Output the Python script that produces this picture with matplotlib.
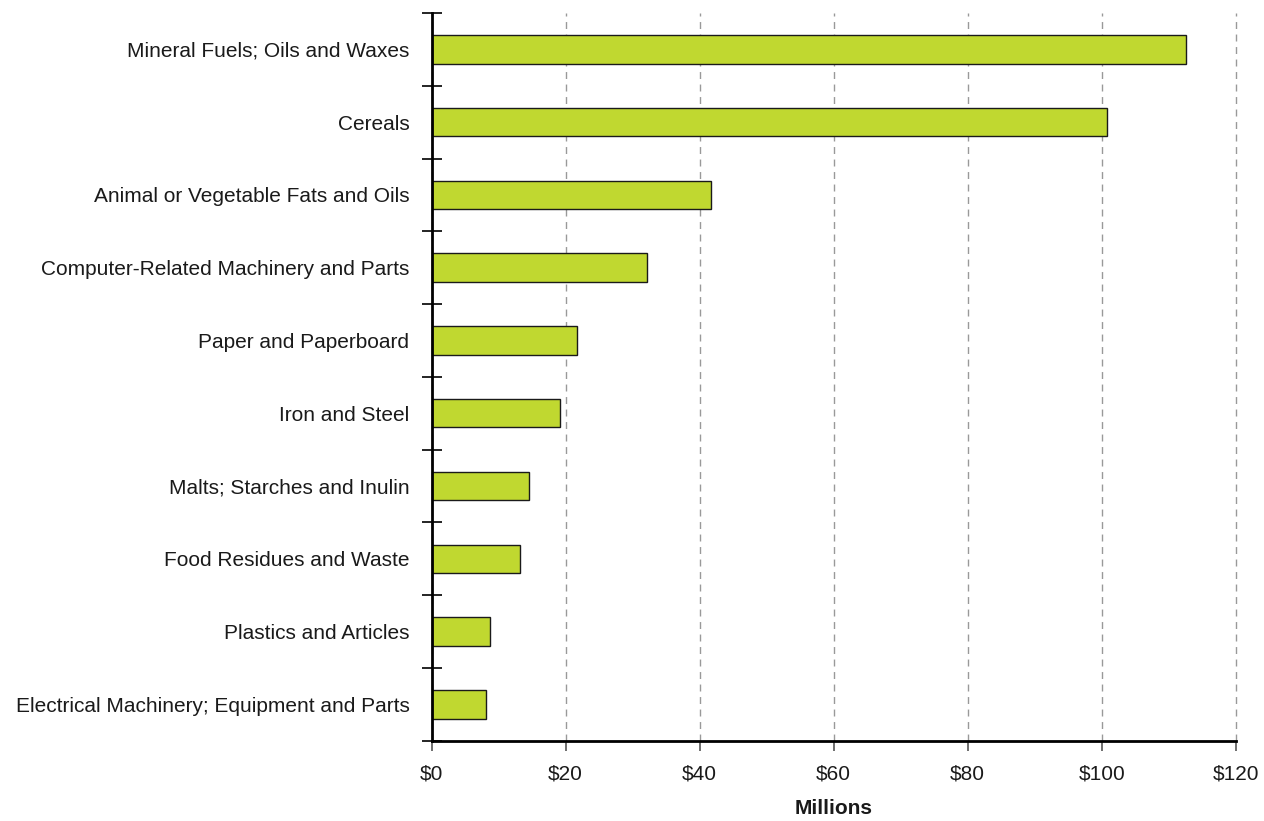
import matplotlib.pyplot as plt
from matplotlib.ticker import FixedLocator, NullFormatter
from matplotlib import font_manager
import numpy as np

categories = [
    "Mineral Fuels; Oils and Waxes",
    "Cereals",
    "Animal or Vegetable Fats and Oils",
    "Computer-Related Machinery and Parts",
    "Paper and Paperboard",
    "Iron and Steel",
    "Malts; Starches and Inulin",
    "Food Residues and Waste",
    "Plastics and Articles",
    "Electrical Machinery; Equipment and Parts",
]
values = [112.6, 100.8, 41.7, 32.1, 21.7, 19.1, 14.6, 13.2, 8.7, 8.1]
x_ticks = [0, 20, 40, 60, 80, 100, 120]
x_labels = ["$0", "$20", "$40", "$60", "$80", "$100", "$120"]

names = {f.name for f in font_manager.fontManager.ttflist}
fams = [f for f in ["Liberation Sans Narrow", "Liberation Sans", "DejaVu Sans"] if f in names]
plt.rcParams['font.family'] = fams

fig = plt.figure(figsize=(12.64, 8.21), dpi=100)
ax = fig.add_axes([0.3415, 0.0978, 0.6361, 0.8864])

y = np.arange(len(categories))
ax.barh(y, values, height=0.39, color='#C0D830', edgecolor='#1a1a1a', linewidth=1.0, zorder=3)

ax.set_xlim(0, 120)
ax.set_ylim(len(categories) - 0.5, -0.5)
ax.set_xticks(x_ticks)
ax.set_xticklabels(x_labels, fontsize=15, color='#1a1a1a')
ax.set_yticks(y)
ax.set_yticklabels(categories, fontsize=15, color='#1a1a1a')
ax.tick_params(axis='y', which='major', length=0, pad=16)
ax.yaxis.set_minor_locator(FixedLocator(np.arange(-0.5, len(categories), 1.0)))
ax.yaxis.set_minor_formatter(NullFormatter())
ax.tick_params(axis='y', which='minor', direction='inout', length=15, width=1.2, color='black')
ax.tick_params(axis='x', which='major', direction='out', length=7, width=1.2, color='#555555', pad=10)

ax.grid(axis='x', linestyle=(0, (5, 4)), color='#999999', linewidth=1.0, zorder=0)
for line in ax.get_xgridlines():
    line.set_clip_on(False)
for s in ['top', 'right']:
    ax.spines[s].set_visible(False)
ax.spines['left'].set_linewidth(2)
ax.spines['bottom'].set_linewidth(2)
ax.spines['left'].set_zorder(4)

ax.set_xlabel("Millions", fontsize=15, fontweight='bold', color='#1a1a1a', labelpad=11)

fig.savefig("out.png", dpi=100)
